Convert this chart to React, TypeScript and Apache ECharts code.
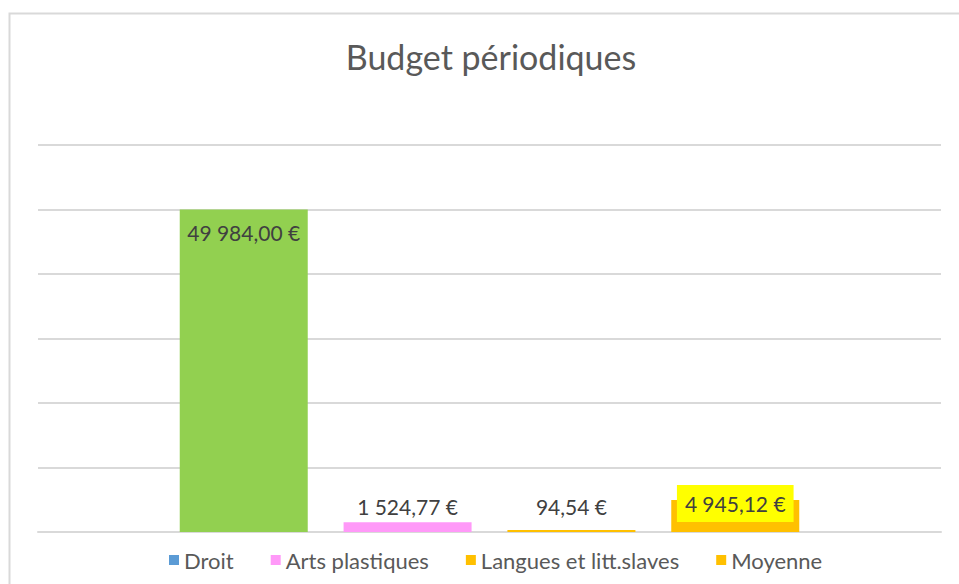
import React, { useEffect, useRef } from "react";
import * as echarts from "echarts";

const categories = [""];
const seriesNames = ["Droit", "Arts plastiques", "Langues et litt.slaves", "Moyenne"];
const seriesValues = [49984.0, 1524.77, 94.54, 4945.12];
const legendColors = ["#5B9BD5", "#FF99F8", "#FFC000", "#FFC000"];
const barColors = ["#92D050", "#FF99F8", "#FFC000", "#FFC000"];
const yTicks = [0, 10000, 20000, 30000, 40000, 50000, 60000];

const fmt = (v: number) => {
  const [i, d] = v.toFixed(2).split(".");
  const withSpaces = i.replace(/\B(?=(\d{3})+(?!\d))/g, "\u202F");
  return `${withSpaces},${d} €`;
};

export default function App() {
  const ref = useRef<HTMLDivElement>(null);
  useEffect(() => {
    if (!ref.current) return;
    const chart = echarts.init(ref.current, undefined, { renderer: "svg" });
    const font = "Lato, 'Open Sans', sans-serif";
    const series = seriesNames.map((name, i) => {
      const label: any = {
        show: true,
        position: i === 0 ? "insideTop" : "top",
        distance: i === 0 ? 12 : 5,
        color: "#404040",
        fontSize: 21,
        fontFamily: font,
        formatter: (p: any) => fmt(p.value),
      };
      if (i === 2) {
        label.offset = [0, -8];
      }
      if (i === 3) {
        label.backgroundColor = "#FFFF00";
        label.padding = [8, 8, 8, 8];
        label.distance = 0;
        label.offset = [0, 22];
      }
      return {
        name,
        type: "bar",
        barWidth: 128,
        barGap: "28%",
        barMinHeight: i === 2 ? 2 : 0,
        itemStyle: { color: legendColors[i] },
        data: [{ value: seriesValues[i], itemStyle: { color: barColors[i] } }],
        label,
        z: i === 3 ? 3 : 2,
      };
    });
    chart.setOption({
      animation: false,
      backgroundColor: "#FFFFFF",
      title: {
        text: "Budget périodiques",
        left: 486,
        top: 34,
        textAlign: "center",
        textStyle: { fontFamily: font, fontSize: 34, fontWeight: "normal", color: "#595959" },
      },
      graphic: [
        {
          type: "rect",
          shape: { x: 9.5, y: 13.5, width: 1000, height: 700 },
          style: { fill: "none", stroke: "#D9D9D9", lineWidth: 2 },
          silent: true,
        },
      ],
      legend: {
        data: seriesNames.map((n, i) => ({ name: n, itemStyle: { color: legendColors[i] } })),
        left: 164,
        top: 544,
        itemWidth: 10,
        itemHeight: 10,
        itemGap: 37,
        icon: "rect",
        textStyle: { fontFamily: font, fontSize: 22, color: "#595959" },
      },
      grid: { left: 38, right: 18, top: 145, bottom: 52 },
      xAxis: {
        type: "category",
        data: categories,
        axisLine: { lineStyle: { color: "#D9D9D9", width: 2 } },
        axisTick: { show: false },
        axisLabel: { show: false },
      },
      yAxis: {
        type: "value",
        min: yTicks[0],
        max: yTicks[yTicks.length - 1],
        interval: yTicks[1] - yTicks[0],
        axisLabel: { show: false },
        axisLine: { show: false },
        axisTick: { show: false },
        splitLine: { lineStyle: { color: "#D9D9D9", width: 2 } },
      },
      series,
    });
    return () => chart.dispose();
  }, []);
  return <div ref={ref} style={{ width: 959, height: 584, position: "absolute", left: 0, top: 0 }} />;
}
